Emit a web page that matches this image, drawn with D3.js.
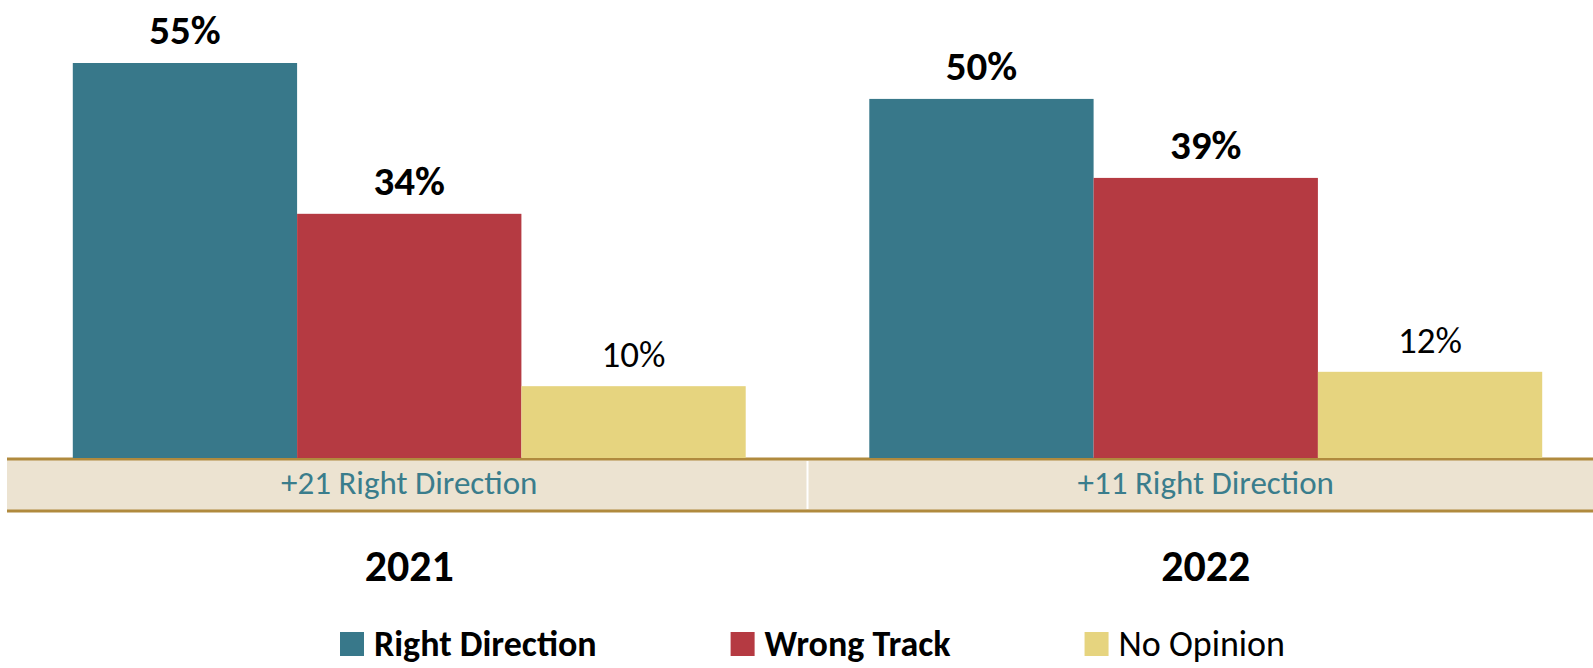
<!DOCTYPE html>
<html>
<head>
<meta charset="utf-8">
<script src="https://cdn.jsdelivr.net/npm/d3@7"></script>
<style>
  html, body { margin: 0; padding: 0; background: #fff; overflow: hidden; }
  svg { display: block; font-family: Carlito, Lato, "Open Sans", sans-serif; }
</style>
</head>
<body>
<svg id="chart" width="1593" height="668"></svg>
<script>
// ---- data ----
const years = ["2021", "2022"];
const seriesNames = ["Right Direction", "Wrong Track", "No Opinion"];
const rightDirection = [55, 50];
const wrongTrack = [34, 39];
const noOpinion = [10, 12];
const netLabels = ["+21 Right Direction", "+11 Right Direction"];
const seriesColors = ["#38788A", "#B53A42", "#E6D47F"];

const seriesValues = [rightDirection, wrongTrack, noOpinion];
const rows = years.map((y, i) => ({
  year: y,
  net: netLabels[i],
  values: seriesNames.map((s, j) => ({ series: s, value: seriesValues[j][i], idx: j }))
}));

const svg = d3.select("#chart");
const W = 1593, H = 668;

const x0 = d3.scaleBand().domain(years).range([11, 1604]).padding(0);
const x1 = d3.scaleBand().domain(seriesNames).range([0, x0.bandwidth()])
  .paddingInner(0).paddingOuter(0.2755);
const y = d3.scaleLinear().domain([0, 55]).range([458, 63]);
const color = d3.scaleOrdinal().domain(seriesNames).range(seriesColors);

// band under bars
const bandTop = 459, bandBottom = 511;
svg.append("rect").attr("x", 7).attr("y", bandTop).attr("width", W).attr("height", bandBottom - bandTop)
  .attr("fill", "#ECE3D1");
svg.append("line").attr("x1", 7).attr("x2", W).attr("y1", bandTop).attr("y2", bandTop)
  .attr("stroke", "#B08A3E").attr("stroke-width", 3);
svg.append("line").attr("x1", 7).attr("x2", W).attr("y1", bandBottom).attr("y2", bandBottom)
  .attr("stroke", "#B08A3E").attr("stroke-width", 3);
svg.append("line").attr("x1", x0(years[1])).attr("x2", x0(years[1]))
  .attr("y1", bandTop + 2).attr("y2", bandBottom - 2)
  .attr("stroke", "#fff").attr("stroke-width", 2);

// bars
const groups = svg.selectAll("g.grp").data(rows).join("g")
  .attr("class", "grp")
  .attr("transform", d => `translate(${x0(d.year)},0)`);

groups.selectAll("rect").data(d => d.values).join("rect")
  .attr("x", d => x1(d.series))
  .attr("width", x1.bandwidth())
  .attr("y", d => y(d.value))
  .attr("height", d => y(0) - y(d.value))
  .attr("fill", d => color(d.series));

groups.selectAll("text.val").data(d => d.values).join("text")
  .attr("class", "val")
  .attr("x", d => x1(d.series) + x1.bandwidth() / 2)
  .attr("y", d => y(d.value) - 19)
  .attr("text-anchor", "middle")
  .attr("font-size", d => d.idx < 2 ? 41 : 37)
  .attr("font-weight", d => d.idx < 2 ? "bold" : "normal")
  .attr("fill", "#000")
  .text(d => d.value + "%");

// net labels in band
svg.selectAll("text.net").data(rows).join("text")
  .attr("class", "net")
  .attr("x", d => x0(d.year) + x0.bandwidth() / 2)
  .attr("y", 494)
  .attr("text-anchor", "middle")
  .attr("font-size", 33)
  .attr("fill", "#3A7D8C")
  .text(d => d.net);

// year labels
svg.selectAll("text.year").data(rows).join("text")
  .attr("class", "year")
  .attr("x", d => x0(d.year) + x0.bandwidth() / 2)
  .attr("y", 581)
  .attr("text-anchor", "middle")
  .attr("font-size", 44)
  .attr("font-weight", "bold")
  .attr("fill", "#000")
  .text(d => d.year);

// legend
const legend = svg.append("g");
const items = legend.selectAll("g").data(seriesNames).join("g");
items.append("rect").attr("width", 24).attr("height", 24).attr("y", 632)
  .attr("fill", d => color(d));
items.append("text").attr("x", 34).attr("y", 656)
  .attr("font-size", 36)
  .attr("font-weight", (d, i) => i < 2 ? "bold" : "normal")
  .attr("fill", "#000")
  .text(d => d);
const widths = [];
items.each(function () {
  const w = 34 + this.querySelector("text").getComputedTextLength();
  widths.push(w);
});
const legLeft = 340, legRight = 1285;
const gap = (legRight - legLeft - d3.sum(widths)) / (widths.length - 1);
let start = legLeft;
items.attr("transform", (d, i) => {
  const t = `translate(${start},0)`;
  start += widths[i] + gap;
  return t;
});
</script>
</body>
</html>
